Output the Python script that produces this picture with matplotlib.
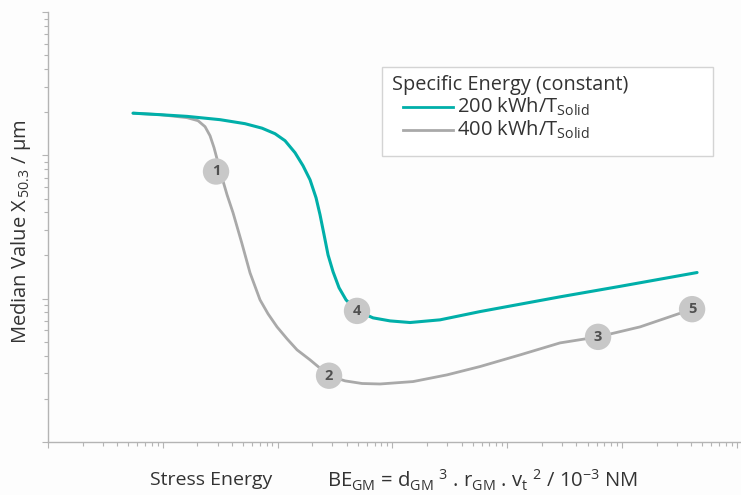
"""
Median particle size vs. stress energy for two specific energies (log-log),
with numbered operating points along the curves.
"""

import matplotlib
matplotlib.use('Agg')
import matplotlib.pyplot as plt
from matplotlib.lines import Line2D
from matplotlib.patches import Rectangle
from matplotlib.ticker import LogLocator, NullFormatter

plt.rcParams['font.family'] = ['Open Sans', 'DejaVu Sans']
plt.rcParams['mathtext.default'] = 'regular'

TEAL = '#00afa9'
GREY = '#a9a9a9'
MARK = '#c8c8c8'
TEXT = '#333333'
AXIS = '#b4b4b4'

# 200 kWh/t specific energy
E200_X = [5.50, 9.45, 16.25, 31.5, 52.0, 73.1, 94.9, 116.0, 141.8, 166.4,
          191.5, 216, 234, 253.7, 274.8, 303.8, 342.6, 394.3, 491.5, 677.6,
          953, 1423, 2598, 5797, 28830, 96070, 450100]
E200_Y = [197.3, 192.6, 187.4, 177.7, 166.6, 155.0, 141.8, 126.7, 104.4, 84.7,
          67.6, 50.6, 38.5, 27.9, 20.2, 15.4, 11.9, 9.79, 8.20, 7.33,
          6.98, 6.80, 7.10, 8.11, 10.28, 12.17, 15.20]

# 400 kWh/t specific energy
E400_X = [5.50, 9.45, 16.25, 20.26, 23.32, 25.77, 27.93, 30.26, 32.79, 36.25,
          40.88, 48.67, 57.48, 70.26, 82.5, 98.8, 120.8, 147.6, 191.5, 280.4,
          386.5, 543.5, 779.8, 1511, 2990, 5797, 12930, 28830, 61790, 143500,
          407300]
E400_Y = [197.3, 192.6, 183.5, 174.8, 158.8, 137.3, 113.2, 88.9, 69.86, 53.1,
          39.75, 24.52, 15.12, 9.79, 7.82, 6.34, 5.23, 4.38, 3.73, 2.89,
          2.66, 2.55, 2.53, 2.63, 2.93, 3.35, 4.04, 4.90, 5.40, 6.34,
          8.43]

# numbered operating points
POINT_LABELS = ['1', '2', '3', '4', '5']
POINT_X = [29.07, 280.4, 61790, 491.5, 407300]
POINT_Y = [77.2, 2.89, 5.40, 8.20, 8.43]

LEGEND_TITLE = 'Specific Energy (constant)'
LEGEND_LABELS = ['200 kWh/T$_{Solid}$', '400 kWh/T$_{Solid}$']

fig = plt.figure(figsize=(7.41, 4.95), dpi=100)
fig.patch.set_facecolor('#fdfdfd')
ax = fig.add_axes([0.0648, 0.1077, 0.934, 0.8675])
ax.set_facecolor('none')

ax.plot(E400_X, E400_Y, color=GREY, lw=2.0, solid_capstyle='round',
        solid_joinstyle='round', zorder=2)
ax.plot(E200_X, E200_Y, color=TEAL, lw=2.2, solid_capstyle='round',
        solid_joinstyle='round', zorder=3)

ax.scatter(POINT_X, POINT_Y, s=19 ** 2, color=MARK, edgecolor='none', zorder=4)
for lab, px, py in zip(POINT_LABELS, POINT_X, POINT_Y):
    ax.text(px, py, lab, ha='center', va='center', fontsize=10.5,
            fontweight='bold', color='#505050', zorder=5)

ax.set_xscale('log')
ax.set_yscale('log')
ax.set_xlim(1, 1.067e6)
ax.set_ylim(1, 1000)

for axis in (ax.xaxis, ax.yaxis):
    axis.set_major_locator(LogLocator(base=10, numticks=20))
    axis.set_minor_locator(LogLocator(base=10, subs=range(2, 10), numticks=20))
    axis.set_major_formatter(NullFormatter())
    axis.set_minor_formatter(NullFormatter())

ax.tick_params(which='major', length=4.5, width=0.8, color=AXIS, direction='out')
ax.tick_params(which='minor', length=3, width=0.8, color=AXIS, direction='out')
for side in ('top', 'right'):
    ax.spines[side].set_visible(False)
for side in ('left', 'bottom'):
    ax.spines[side].set_color(AXIS)
    ax.spines[side].set_linewidth(1.0)

# axis titles
fig.text(21 / 741, 1 - 232 / 495, 'Median Value X$_{\\,50.3}$ / µm',
         rotation=90, ha='center', va='center', fontsize=14.5, color=TEXT)
fig.text(211 / 741, 1 - 480 / 495, 'Stress Energy', ha='center', va='center',
         fontsize=14, color=TEXT)
fig.text(327 / 741, 1 - 480 / 495,
         'BE$_{GM}$ = d$_{GM}$ $^{3}$ . r$_{GM}$ . v$_{t}$ $^{2}$ / 10$^{-3}$ NM',
         ha='left', va='center', fontsize=14.6, color=TEXT)

# legend box drawn in figure coordinates
W, H = 741, 495
fig.patches.append(Rectangle((382 / W, 1 - 156 / H), (713 - 382) / W, (156 - 67) / H,
                             transform=fig.transFigure, facecolor='white',
                             edgecolor='#d4d4d4', linewidth=1.0, zorder=6))
fig.text(392 / W, 1 - 85 / H, LEGEND_TITLE, ha='left', va='center',
         fontsize=14.3, color=TEXT, zorder=7)
for i, (lab, col) in enumerate(zip(LEGEND_LABELS, [TEAL, GREY])):
    yy = 1 - (107 + 23 * i) / H
    fig.add_artist(Line2D([403 / W, 453 / W], [yy, yy], transform=fig.transFigure,
                          color=col, lw=2.0, zorder=7))
    fig.text(457 / W, yy, lab, ha='left', va='center', fontsize=14.5,
             color=TEXT, zorder=7)

fig.savefig('out.png', dpi=100, facecolor=fig.get_facecolor())
